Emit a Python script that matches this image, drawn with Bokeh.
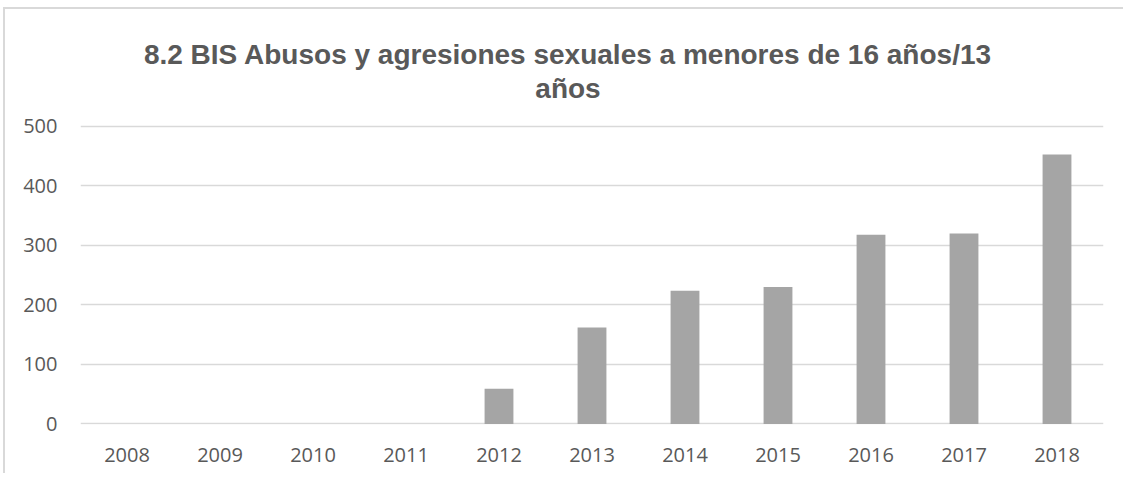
from bokeh.plotting import figure
from bokeh.models import Range1d, FactorRange, Label
from bokeh.embed import file_html
from bokeh.resources import INLINE

years = ["2008", "2009", "2010", "2011", "2012", "2013", "2014", "2015", "2016", "2017", "2018"]
values = [0, 0, 0, 0, 59, 162, 224, 230, 318, 320, 453]
y_ticks = [0, 100, 200, 300, 400, 500]
title_lines = ["8.2 BIS Abusos y agresiones sexuales a menores de 16 años/13", "años"]

# the plot frame reaches the top of the chart so the title sits inside it
p = figure(x_range=FactorRange(*years), y_range=Range1d(-1, 696.5),
           width=1120, height=466, output_backend="svg", toolbar_location=None,
           min_border_left=75, min_border_right=22, min_border_top=0, min_border_bottom=51,
           title=None)
p.styles = {"border-top": "2px solid #d9d9d9", "border-left": "2px solid #d9d9d9",
            "margin-left": "3px", "margin-top": "7px"}

p.vbar(x=years, top=values, width=0.31, fill_color="#a5a5a5", line_color=None)

# two-line chart title, centred on the whole chart area
title_x = 5.242
for txt, ty in zip(title_lines, [620.8, 563.7]):
    p.add_layout(Label(x=title_x, y=ty, text=txt, text_align="center",
                       text_baseline="alphabetic", text_font="Liberation Sans",
                       text_font_style="bold", text_font_size="28px",
                       text_color="#595959"))

p.outline_line_color = None
p.background_fill_color = "white"
p.border_fill_color = "white"

p.xgrid.grid_line_color = None
p.ygrid.grid_line_color = "#d9d9d9"
p.ygrid.grid_line_width = 1.3
p.yaxis.ticker = y_ticks

for ax in (p.xaxis[0], p.yaxis[0]):
    ax.axis_line_color = None
    ax.major_tick_line_color = None
    ax.minor_tick_line_color = None
    ax.major_label_text_font = "Open Sans"
    ax.major_label_text_font_size = "20px"
    ax.major_label_text_color = "#595959"
p.xaxis.major_label_standoff = 17
p.yaxis.major_label_standoff = 17

open("out.html", "w").write(file_html(p, INLINE))
